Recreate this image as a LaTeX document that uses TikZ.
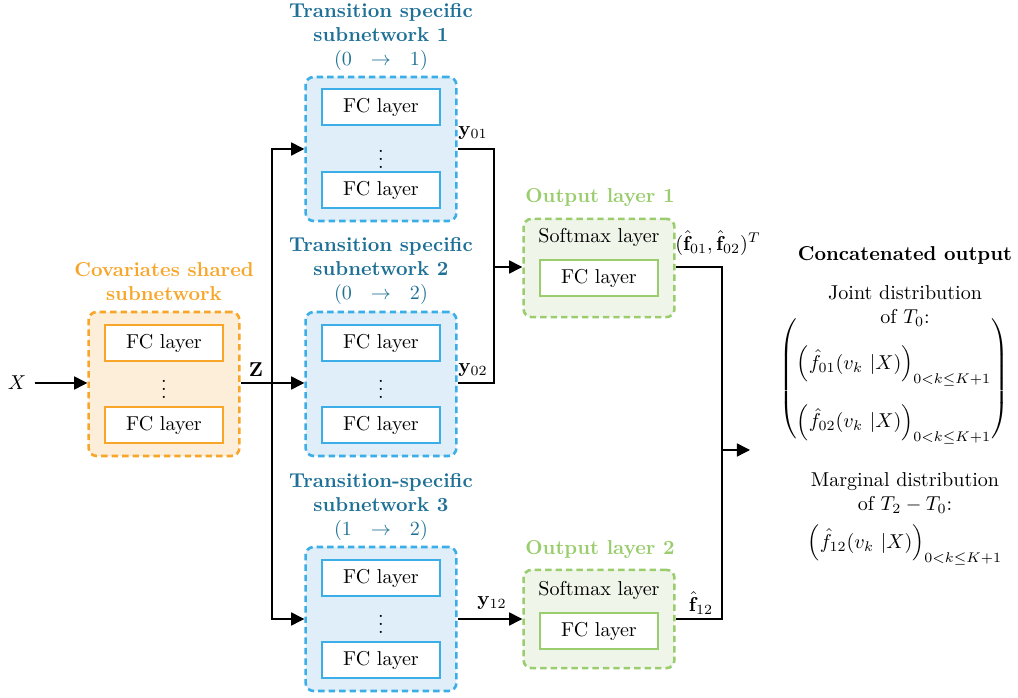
\documentclass[tikz,border=0pt]{standalone}
\usepackage{amsmath,amssymb}
\usepackage{tikz}
\usetikzlibrary{arrows.meta,positioning,calc}
\definecolor{covorange}{RGB}{247,166,42}
\definecolor{covfill}{RGB}{253,238,218}
\definecolor{subblue}{RGB}{59,174,232}
\definecolor{subfill}{RGB}{223,238,248}
\definecolor{subtitle}{RGB}{30,112,150}
\definecolor{outgreen}{RGB}{154,205,109}
\definecolor{outfill}{RGB}{240,245,234}

\begin{document}
\begin{tikzpicture}[x=0.0175cm, y=-0.0175cm,
    >={Triangle[length=6.5pt, width=6.5pt]},
    conn/.style={line width=0.7pt, line join=miter},
    subnet/.style={rounded corners=4pt, line width=1.3pt, dash pattern=on 3.2pt off 2pt,
        minimum width=2.64cm, minimum height=2.52cm, inner sep=0pt},
    outbox/.style={rounded corners=4pt, line width=1.3pt, dash pattern=on 3.2pt off 2pt,
        draw=outgreen, fill=outfill, minimum width=2.64cm, minimum height=1.72cm, inner sep=0pt},
    fc/.style={draw, fill=white, line width=1pt, minimum width=2.07cm, minimum height=0.63cm, inner sep=0pt},
    heading/.style={font=\bfseries, align=center, inner sep=1pt},
    lbl/.style={inner sep=1pt}
]
    \useasboundingbox (0,0) rectangle (1018,698);

    % Covariates shared subnetwork
    \node[heading, covorange] (covtitle) at (164,282) {Covariates shared\\subnetwork};
    \node[subnet, draw=covorange, fill=covfill] (cov) at (164,384) {};
    \node[fc, draw=covorange] (cov1) at (164,343) {FC layer};
    \node (covdots) at (164,383) {$\vdots$};
    \node[fc, draw=covorange] (cov2) at (164,425) {FC layer};

    % Transition specific subnetworks
    \node[heading, subtitle] (sub1title) at (381,37) {Transition specific\\subnetwork 1\\{\normalfont$(0\ \ \rightarrow\ \ 1)$}};
    \node[subnet, draw=subblue, fill=subfill] (sub1) at (381,149) {};
    \node[fc, draw=subblue] (sub1a) at (381,107) {FC layer};
    \node (sub1dots) at (381,153) {$\vdots$};
    \node[fc, draw=subblue] (sub1b) at (381,190) {FC layer};

    \node[heading, subtitle] (sub2title) at (381,271) {Transition specific\\subnetwork 2\\{\normalfont$(0\ \ \rightarrow\ \ 2)$}};
    \node[subnet, draw=subblue, fill=subfill] (sub2) at (381,384) {};
    \node[fc, draw=subblue] (sub2a) at (381,343) {FC layer};
    \node (sub2dots) at (381,383) {$\vdots$};
    \node[fc, draw=subblue] (sub2b) at (381,425) {FC layer};

    \node[heading, subtitle] (sub3title) at (381,507) {Transition-specific\\subnetwork 3\\{\normalfont$(1\ \ \rightarrow\ \ 2)$}};
    \node[subnet, draw=subblue, fill=subfill] (sub3) at (381,619) {};
    \node[fc, draw=subblue] (sub3a) at (381,578) {FC layer};
    \node (sub3dots) at (381,618) {$\vdots$};
    \node[fc, draw=subblue] (sub3b) at (381,660) {FC layer};

    % Output layers
    \node[heading, outgreen] (out1title) at (600,198) {Output layer 1};
    \node[outbox] (out1) at (599,268) {};
    \node (soft1) at (599,237) {Softmax layer};
    \node[fc, draw=outgreen] (fc1) at (599,278) {FC layer};

    \node[heading, outgreen] (out2title) at (600,550) {Output layer 2};
    \node[outbox] (out2) at (599,619) {};
    \node (soft2) at (599,590) {Softmax layer};
    \node[fc, draw=outgreen] (fc2) at (599,631) {FC layer};

    % Connectors
    \node[lbl] (x) at (17,383) {$X$};
    \coordinate (split) at (272,383);
    \coordinate (merge1) at (494,267);
    \coordinate (merge2) at (722,450);
    \coordinate (concat) at (750,450);

    \draw[conn, ->] (x.east) ++(3pt,0) -- (cov.west |- x);
    \draw[conn, ->] (cov.east |- split) -- (sub2.west |- split);
    \draw[conn, ->] (split) |- (sub1.west);
    \draw[conn, ->] (split) |- (sub3.west);
    \draw[conn] (sub1.east) -| (merge1);
    \draw[conn] (sub2.east |- split) -| (merge1);
    \draw[conn, ->] (merge1) -- (out1.west |- merge1);
    \draw[conn] (out1.east |- merge1) -| (merge2);
    \draw[conn, ->] (sub3.east) -- (out2.west);
    \draw[conn] (out2.east) -| (merge2);
    \draw[conn, ->] (merge2) -- (concat);

    % Labels on the connectors
    \node[lbl] (z) at (256,370) {$\mathbf{Z}$};
    \node[lbl] (y01) at (473,133) {$\mathbf{y}_{01}$};
    \node[lbl] (y02) at (473,370) {$\mathbf{y}_{02}$};
    \node[lbl] (y12) at (492,603) {$\mathbf{y}_{12}$};
    \node[lbl] (f0102) at (718,243) {$(\hat{\mathbf{f}}_{01},\hat{\mathbf{f}}_{02})^T$};
    \node[lbl] (f12) at (701,603) {$\hat{\mathbf{f}}_{12}$};

    % Concatenated output
    \node[font=\bfseries] (conctitle) at (905,255) {Concatenated output};
    \node[align=center] (joint) at (905,306) {Joint distribution\\of $T_0$:};
    \node (jointmat) at (894,379) {$\left(\begin{array}{@{}c@{}}
        \vphantom{T_0}\\[4pt]
        \left(\hat{f}_{01}(v_k\ |X)\right)_{0<k\leq K+1}\\[14pt]
        \left(\hat{f}_{02}(v_k\ |X)\right)_{0<k\leq K+1}
        \end{array}\right)$};
    \node[align=center] (marg) at (905,493) {Marginal distribution\\of $T_2-T_0$:};
    \node (margf) at (905,545) {$\left(\hat{f}_{12}(v_k\ |X)\right)_{0<k\leq K+1}$};
\end{tikzpicture}
\end{document}
